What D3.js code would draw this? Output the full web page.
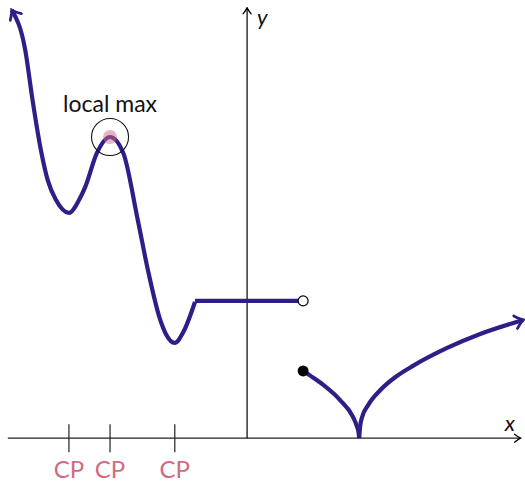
<!DOCTYPE html>
<html>
<head>
<meta charset="utf-8">
<script src="https://cdn.jsdelivr.net/npm/d3@7"></script>
<style>
  html, body { margin: 0; padding: 0; background: #fff; }
  svg { display: block; }
  text { font-family: Lato, "DejaVu Sans", sans-serif; }
</style>
</head>
<body>
<svg id="chart" width="525" height="483"></svg>
<script>
// Piecewise function: wavy left part, a flat step, then a cusp branch.
const curveLeftX = [-4.20, -3.96, -3.83, -3.68, -3.56, -3.41, -3.18, -3.00, -2.89, -2.68, -2.446, -2.21, -1.95, -1.77, -1.55, -1.45, -1.29, -1.14, -0.93];
const curveLeftY = [ 7.64,  6.93,  6.04,  5.14,  4.61,  4.25,  4.02,  4.25,  4.48,  5.09,  5.375,  5.09,  3.89,  3.00,  2.11,  1.86,  1.70,  1.89,  2.43];

const stepX = [-0.93, 1.0];
const stepY = [2.45, 2.45];

const cuspLeftX = [1.0, 1.18, 1.36, 1.66, 1.89, 1.96, 1.99, 2.0];
const cuspLeftY = [1.2, 1.08, 0.95, 0.68, 0.38, 0.21, 0.10, 0.0];
const cuspRightX = [2.0, 2.02, 2.05, 2.16, 2.38, 2.66, 2.96, 3.57, 4.16, 4.93];
const cuspRightY = [0.0, 0.23, 0.37, 0.59, 0.86, 1.10, 1.29, 1.61, 1.86, 2.11];

const openPoint = [1.0, 2.45];
const closedPoint = [1.0, 1.2];
const localMax = [-2.446, 5.375];

const criticalX = [-3.18, -2.446, -1.29];
const criticalLabels = ["CP", "CP", "CP"];

const W = 525, H = 483;
const x = d3.scaleLinear().domain([-4.41, 4.96]).range([0, W]);
const y = d3.scaleLinear().domain([-0.80, 7.82]).range([H, 0]);

const svg = d3.select("#chart");
const ink = "#2e1f88";
const pink = "#d26a80";

const defs = svg.append("defs");
// open chevron arrowheads
defs.append("marker").attr("id", "arrowCurve")
  .attr("viewBox", "-10 -8 12 16").attr("refX", 0).attr("refY", 0)
  .attr("markerWidth", 12).attr("markerHeight", 16)
  .attr("markerUnits", "userSpaceOnUse")
  .attr("orient", "auto-start-reverse")
  .append("path").attr("d", "M-8,-6.5 Q-3,-1.5 0,0 Q-3,1.5 -8,6.5")
  .attr("fill", "none").attr("stroke", ink).attr("stroke-width", 2.8).attr("stroke-linecap", "round");
defs.append("marker").attr("id", "arrowAxis")
  .attr("viewBox", "-8 -5 9 10").attr("refX", 0).attr("refY", 0)
  .attr("markerWidth", 9).attr("markerHeight", 10)
  .attr("markerUnits", "userSpaceOnUse")
  .attr("orient", "auto")
  .append("path").attr("d", "M-6,-4 Q-2,-1 0,0 Q-2,1 -6,4")
  .attr("fill", "none").attr("stroke", "#000").attr("stroke-width", 1.3).attr("stroke-linecap", "round");

// axes
svg.append("line")
  .attr("x1", x(-4.27)).attr("x2", x(4.88)).attr("y1", y(0)).attr("y2", y(0))
  .attr("stroke", "#222").attr("stroke-width", 1.2).attr("marker-end", "url(#arrowAxis)");
svg.append("line")
  .attr("x1", x(0)).attr("x2", x(0)).attr("y1", y(0)).attr("y2", y(7.68))
  .attr("stroke", "#000").attr("stroke-width", 1.2).attr("marker-end", "url(#arrowAxis)");
svg.append("text").attr("x", x(4.6)).attr("y", y(0) - 7)
  .attr("font-size", 22).attr("font-style", "italic").attr("fill", "#111").text("x");
svg.append("text").attr("x", x(0) + 10).attr("y", y(7.45) + 4)
  .attr("font-size", 22).attr("font-style", "italic").attr("fill", "#111").text("y");

// critical point ticks and labels
svg.selectAll(".cp-tick").data(criticalX).join("line")
  .attr("x1", d => x(d)).attr("x2", d => x(d))
  .attr("y1", y(0) - 14).attr("y2", y(0) + 14)
  .attr("stroke", "#222").attr("stroke-width", 1.2);
svg.selectAll(".cp-label").data(criticalX).join("text")
  .attr("x", d => x(d)).attr("y", y(0) + 40)
  .attr("text-anchor", "middle").attr("font-size", 24).attr("fill", pink)
  .text((d, i) => criticalLabels[i]);

const lineMono = d3.line().x(d => x(d[0])).y(d => y(d[1])).curve(d3.curveMonotoneX);
const zip = (a, b) => a.map((v, i) => [v, b[i]]);

const strokeW = 4.2;
svg.append("path").datum(zip(curveLeftX, curveLeftY))
  .attr("d", lineMono).attr("fill", "none").attr("stroke", ink)
  .attr("stroke-width", strokeW).attr("stroke-linejoin", "round")
  .attr("marker-start", "url(#arrowCurve)");
svg.append("path").datum(zip(stepX, stepY))
  .attr("d", d3.line().x(d => x(d[0])).y(d => y(d[1])))
  .attr("fill", "none").attr("stroke", ink).attr("stroke-width", strokeW);
svg.append("path").datum(zip(cuspLeftX, cuspLeftY))
  .attr("d", lineMono).attr("fill", "none").attr("stroke", ink).attr("stroke-width", strokeW);
svg.append("path").datum(zip(cuspRightX, cuspRightY))
  .attr("d", lineMono).attr("fill", "none").attr("stroke", ink).attr("stroke-width", strokeW)
  .attr("marker-end", "url(#arrowCurve)");

// endpoints of the step
svg.append("circle").attr("cx", x(openPoint[0])).attr("cy", y(openPoint[1])).attr("r", 5)
  .attr("fill", "#fff").attr("stroke", "#000").attr("stroke-width", 1.2);
svg.append("circle").attr("cx", x(closedPoint[0])).attr("cy", y(closedPoint[1])).attr("r", 5.5)
  .attr("fill", "#000");

// local maximum highlight
svg.append("circle").attr("cx", x(localMax[0])).attr("cy", y(localMax[1])).attr("r", 7)
  .attr("fill", pink).attr("fill-opacity", 0.5);
svg.append("circle").attr("cx", x(localMax[0])).attr("cy", y(localMax[1])).attr("r", 18.5)
  .attr("fill", "none").attr("stroke", "#111").attr("stroke-width", 1.1);
svg.append("text").attr("x", x(localMax[0])).attr("y", y(localMax[1]) - 25)
  .attr("text-anchor", "middle").attr("font-size", 23).attr("fill", "#111").text("local max");
</script>
</body>
</html>
